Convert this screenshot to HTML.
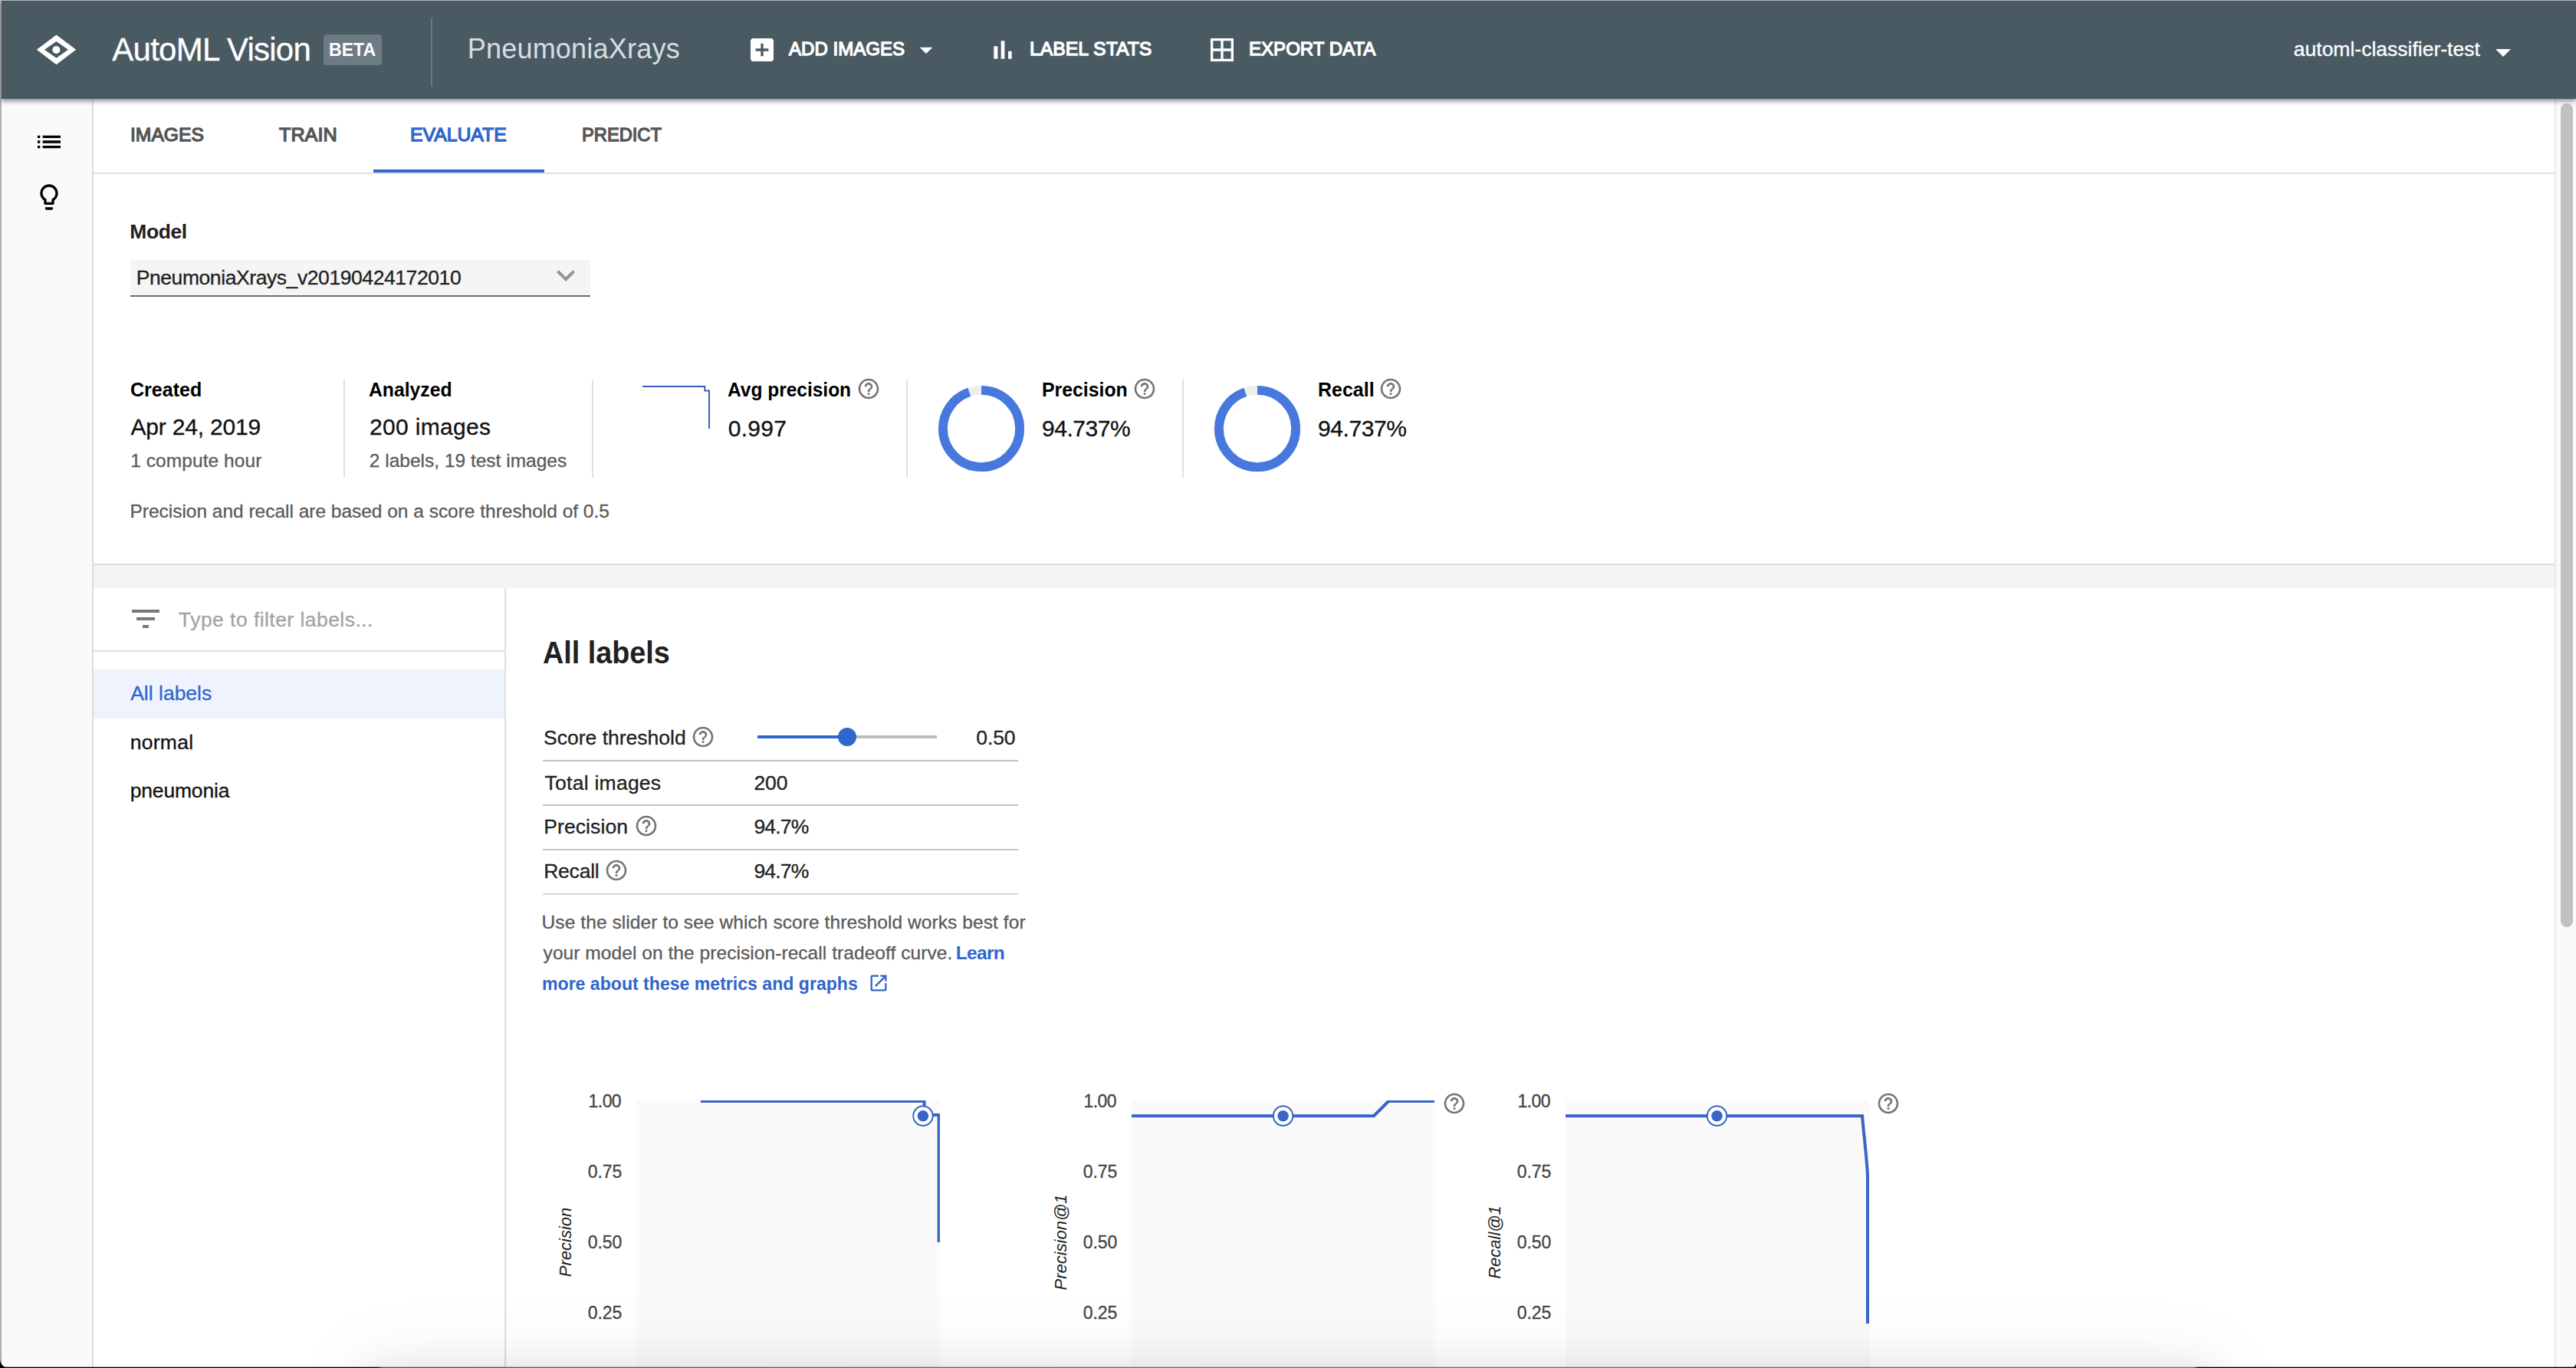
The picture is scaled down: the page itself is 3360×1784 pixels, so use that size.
<!DOCTYPE html>
<html lang="en"><head><meta charset="utf-8"><title>AutoML Vision - PneumoniaXrays - Evaluate</title>
<style>
html,body{margin:0;padding:0}
body{width:3360px;height:1784px;position:relative;overflow:hidden;background:#fff;font-family:"Liberation Sans",sans-serif;}
.t{position:absolute;white-space:pre;transform-origin:0 0;display:block}
.i{position:absolute;display:block;overflow:visible}
.b{position:absolute;display:block}
</style></head><body>

<div class="b" style="left:0;top:0;width:2px;height:1784px;background:linear-gradient(90deg,#bdbdbd 0,#b4b4b4 60%,#8e8e8e 100%)"></div>
<div class="b" style="left:2px;top:129px;width:118px;height:1655px;background:#fafafa;border-right:2px solid #dcdcdc"></div>
<svg class="i" style="left:44.0px;top:165.0px;width:40px;height:40px" viewBox="0 0 24 24"><path fill="#000" d="M3 13h2v-2H3v2zm0 4h2v-2H3v2zm0-8h2V7H3v2zm4 4h14v-2H7v2zm0 4h14v-2H7v2zM7 7v2h14V7H7z"/></svg>
<svg class="i" style="left:44.0px;top:237.0px;width:40px;height:40px" viewBox="0 0 24 24"><path fill="#000" d="M9 21c0 .55.45 1 1 1h4c.55 0 1-.45 1-1v-1H9v1zm3-19C8.14 2 5 5.14 5 9c0 2.38 1.19 4.47 3 5.74V17c0 .55.45 1 1 1h6c.55 0 1-.45 1-1v-2.26c1.81-1.27 3-3.36 3-5.74 0-3.86-3.14-7-7-7zm2.85 11.1l-.85.6V16h-4v-2.3l-.85-.6C7.8 12.16 7 10.63 7 9c0-2.76 2.24-5 5-5s5 2.24 5 5c0 1.63-.8 3.16-2.15 4.1z"/></svg>
<div class="b" style="left:122px;top:225px;width:3210px;height:2px;background:#e0e0e0"></div>
<div class="b" style="left:487px;top:221px;width:223px;height:4px;background:#3268cd"></div>
<span class="t" style="left:169.5px;top:164px;font-size:24.5px;line-height:24.5px;color:#555555;font-weight:normal;-webkit-text-stroke:1.3px currentColor;transform:scaleX(1.0064);">IMAGES</span>
<span class="t" style="left:363.6px;top:164px;font-size:24.5px;line-height:24.5px;color:#555555;font-weight:normal;-webkit-text-stroke:1.3px currentColor;transform:scaleX(1.0292);">TRAIN</span>
<span class="t" style="left:535.2px;top:164px;font-size:24.5px;line-height:24.5px;color:#2f66cc;font-weight:normal;-webkit-text-stroke:1.3px currentColor;transform:scaleX(1.0106);">EVALUATE</span>
<span class="t" style="left:758.7px;top:164px;font-size:24.5px;line-height:24.5px;color:#555555;font-weight:normal;-webkit-text-stroke:1.3px currentColor;transform:scaleX(0.9664);">PREDICT</span>
<span class="t" style="left:169.3px;top:289px;font-size:26.5px;line-height:26.5px;color:#212121;font-weight:bold;letter-spacing:-0.45px;">Model</span>
<div class="b" style="left:170px;top:339px;width:600px;height:45px;background:#f5f5f5"></div><div class="b" style="left:170px;top:385px;width:600px;height:2px;background:#6c6c6c"></div>
<span class="t" style="left:177.7px;top:349px;font-size:26.5px;line-height:26.5px;color:#212121;-webkit-text-stroke:0.3px currentColor;letter-spacing:-0.42px;">PneumoniaXrays_v20190424172010</span>
<svg class="i" style="left:713.9px;top:334.7px;width:48px;height:48px" viewBox="0 0 24 24"><path fill="#949494" d="M16.59 8.59L12 13.17 7.41 8.59 6 10l6 6 6-6z"/></svg>
<div class="b" style="left:448px;top:495px;width:2px;height:128px;background:#e0e0e0"></div>
<div class="b" style="left:772px;top:495px;width:2px;height:128px;background:#e0e0e0"></div>
<div class="b" style="left:1182px;top:495px;width:2px;height:128px;background:#e0e0e0"></div>
<div class="b" style="left:1542px;top:495px;width:2px;height:128px;background:#e0e0e0"></div>
<span class="t" style="left:169.8px;top:495px;font-size:26.5px;line-height:26.5px;color:#000;font-weight:bold;transform:scaleX(0.9458);">Created</span>
<span class="t" style="left:170.5px;top:542px;font-size:30px;line-height:30px;color:#111;-webkit-text-stroke:0.3px currentColor;letter-spacing:-0.20px;">Apr 24, 2019</span>
<span class="t" style="left:170.2px;top:589px;font-size:24.5px;line-height:24.5px;color:#5a5a5a;-webkit-text-stroke:0.3px currentColor;letter-spacing:0.07px;">1 compute hour</span>
<span class="t" style="left:481.3px;top:495px;font-size:26.5px;line-height:26.5px;color:#000;font-weight:bold;transform:scaleX(0.9333);">Analyzed</span>
<span class="t" style="left:482.0px;top:542px;font-size:30px;line-height:30px;color:#111;-webkit-text-stroke:0.3px currentColor;letter-spacing:0.32px;">200 images</span>
<span class="t" style="left:481.8px;top:589px;font-size:24.5px;line-height:24.5px;color:#5a5a5a;-webkit-text-stroke:0.3px currentColor;">2 labels, 19 test images</span>
<span class="t" style="left:948.9px;top:495px;font-size:26.5px;line-height:26.5px;color:#000;font-weight:bold;transform:scaleX(0.9244);">Avg precision</span>
<span class="t" style="left:949.7px;top:544px;font-size:30px;line-height:30px;color:#111;-webkit-text-stroke:0.3px currentColor;letter-spacing:0.30px;">0.997</span>
<span class="t" style="left:1359.3px;top:495px;font-size:26.5px;line-height:26.5px;color:#000;font-weight:bold;transform:scaleX(0.9362);">Precision</span>
<span class="t" style="left:1359.0px;top:544px;font-size:30px;line-height:30px;color:#111;-webkit-text-stroke:0.3px currentColor;letter-spacing:-0.47px;">94.737%</span>
<span class="t" style="left:1718.7px;top:495px;font-size:26.5px;line-height:26.5px;color:#000;font-weight:bold;transform:scaleX(0.9432);">Recall</span>
<span class="t" style="left:1719.0px;top:544px;font-size:30px;line-height:30px;color:#111;-webkit-text-stroke:0.3px currentColor;letter-spacing:-0.42px;">94.737%</span>
<span class="t" style="left:169.5px;top:655px;font-size:24.5px;line-height:24.5px;color:#5a5a5a;-webkit-text-stroke:0.3px currentColor;letter-spacing:-0.02px;">Precision and recall are based on a score threshold of 0.5</span>
<svg class="i" style="left:830px;top:495px;width:110px;height:80px" viewBox="830 495 110 80"><path d="M838 504H919.3V509.6H925V559" fill="none" stroke="#3560c2" stroke-width="2"/></svg>
<svg class="i" style="left:1117.0px;top:491.0px;width:32px;height:32px" viewBox="0 0 24 24"><path fill="#757575" d="M11 18h2v-2h-2v2zm1-16C6.48 2 2 6.48 2 12s4.48 10 10 10 10-4.48 10-10S17.52 2 12 2zm0 18c-4.41 0-8-3.59-8-8s3.59-8 8-8 8 3.59 8 8-3.59 8-8 8zm0-14c-2.21 0-4 1.79-4 4h2c0-1.1.9-2 2-2s2 .9 2 2c0 2-3 1.75-3 5h2c0-2.25 3-2.5 3-5 0-2.21-1.79-4-4-4z"/></svg>
<svg class="i" style="left:1477.3px;top:491.0px;width:32px;height:32px" viewBox="0 0 24 24"><path fill="#757575" d="M11 18h2v-2h-2v2zm1-16C6.48 2 2 6.48 2 12s4.48 10 10 10 10-4.48 10-10S17.52 2 12 2zm0 18c-4.41 0-8-3.59-8-8s3.59-8 8-8 8 3.59 8 8-3.59 8-8 8zm0-14c-2.21 0-4 1.79-4 4h2c0-1.1.9-2 2-2s2 .9 2 2c0 2-3 1.75-3 5h2c0-2.25 3-2.5 3-5 0-2.21-1.79-4-4-4z"/></svg>
<svg class="i" style="left:1798.4px;top:491.0px;width:32px;height:32px" viewBox="0 0 24 24"><path fill="#757575" d="M11 18h2v-2h-2v2zm1-16C6.48 2 2 6.48 2 12s4.48 10 10 10 10-4.48 10-10S17.52 2 12 2zm0 18c-4.41 0-8-3.59-8-8s3.59-8 8-8 8 3.59 8 8-3.59 8-8 8zm0-14c-2.21 0-4 1.79-4 4h2c0-1.1.9-2 2-2s2 .9 2 2c0 2-3 1.75-3 5h2c0-2.25 3-2.5 3-5 0-2.21-1.79-4-4-4z"/></svg>
<svg class="i" style="left:1220.05px;top:498.85px;width:120px;height:120px" viewBox="-60 -60 120 120"><circle r="50.1" fill="none" stroke="#eeeeee" stroke-width="11.9"/><circle r="50.1" fill="none" stroke="#4878dd" stroke-width="11.9" stroke-dasharray="298.22 314.79" transform="rotate(-90)"/></svg>
<svg class="i" style="left:1580.0px;top:498.85px;width:120px;height:120px" viewBox="-60 -60 120 120"><circle r="50.1" fill="none" stroke="#eeeeee" stroke-width="11.9"/><circle r="50.1" fill="none" stroke="#4878dd" stroke-width="11.9" stroke-dasharray="298.22 314.79" transform="rotate(-90)"/></svg>
<div class="b" style="left:122px;top:735px;width:3210px;height:30px;background:#f4f4f4;border-top:2px solid #dedede"></div>
<div class="b" style="left:658px;top:767px;width:2px;height:1017px;background:#dedede"></div>
<svg class="i" style="left:166.0px;top:783.0px;width:48px;height:48px" viewBox="0 0 24 24"><path fill="#7a7a7a" d="M10 18h4v-2h-4v2zM3 6v2h18V6H3zm3 7h12v-2H6v2z"/></svg>
<span class="t" style="left:233.0px;top:795px;font-size:26.5px;line-height:26.5px;color:#a3a3a3;-webkit-text-stroke:0.3px currentColor;letter-spacing:0.45px;">Type to filter labels...</span>
<div class="b" style="left:122px;top:848px;width:536px;height:2px;background:#e0e0e0"></div>
<div class="b" style="left:122px;top:873px;width:536px;height:64px;background:#eff3fd"></div>
<span class="t" style="left:170.2px;top:891px;font-size:26.5px;line-height:26.5px;color:#2f66cc;-webkit-text-stroke:0.3px currentColor;">All labels</span>
<span class="t" style="left:169.7px;top:955px;font-size:26.5px;line-height:26.5px;color:#111;-webkit-text-stroke:0.3px currentColor;letter-spacing:0.28px;">normal</span>
<span class="t" style="left:169.7px;top:1018px;font-size:26.5px;line-height:26.5px;color:#111;-webkit-text-stroke:0.3px currentColor;letter-spacing:-0.17px;">pneumonia</span>
<span class="t" style="left:707.6px;top:831px;font-size:41px;line-height:41px;color:#212121;font-weight:bold;transform:scaleX(0.9208);">All labels</span>
<span class="t" style="left:709.1px;top:949px;font-size:26.5px;line-height:26.5px;color:#212121;-webkit-text-stroke:0.3px currentColor;">Score threshold</span>
<span class="t" style="left:1273.3px;top:949px;font-size:26.5px;line-height:26.5px;color:#212121;-webkit-text-stroke:0.3px currentColor;letter-spacing:-0.10px;">0.50</span>
<span class="t" style="left:710.6px;top:1008px;font-size:26.5px;line-height:26.5px;color:#212121;-webkit-text-stroke:0.3px currentColor;letter-spacing:0.25px;">Total images</span>
<span class="t" style="left:983.4px;top:1008px;font-size:26.5px;line-height:26.5px;color:#212121;-webkit-text-stroke:0.3px currentColor;letter-spacing:-0.05px;">200</span>
<span class="t" style="left:709.2px;top:1065px;font-size:26.5px;line-height:26.5px;color:#212121;-webkit-text-stroke:0.3px currentColor;letter-spacing:0.11px;">Precision</span>
<span class="t" style="left:983.4px;top:1065px;font-size:26.5px;line-height:26.5px;color:#212121;-webkit-text-stroke:0.3px currentColor;letter-spacing:-0.80px;">94.7%</span>
<span class="t" style="left:709.2px;top:1123px;font-size:26.5px;line-height:26.5px;color:#212121;-webkit-text-stroke:0.3px currentColor;letter-spacing:-0.22px;">Recall</span>
<span class="t" style="left:983.4px;top:1123px;font-size:26.5px;line-height:26.5px;color:#212121;-webkit-text-stroke:0.3px currentColor;letter-spacing:-0.80px;">94.7%</span>
<span class="t" style="left:706.6px;top:1191px;font-size:24.5px;line-height:24.5px;color:#5a5a5a;-webkit-text-stroke:0.3px currentColor;letter-spacing:0.08px;">Use the slider to see which score threshold works best for</span>
<span class="t" style="left:708.6px;top:1231px;font-size:24.5px;line-height:24.5px;color:#5a5a5a;-webkit-text-stroke:0.3px currentColor;letter-spacing:0.06px;">your model on the precision-recall tradeoff curve.</span>
<span class="t" style="left:1246.8px;top:1231px;font-size:24.5px;line-height:24.5px;color:#2f66cc;font-weight:bold;letter-spacing:-0.68px;">Learn</span>
<span class="t" style="left:706.7px;top:1271px;font-size:24.5px;line-height:24.5px;color:#2f66cc;font-weight:bold;transform:scaleX(0.9422);">more about these metrics and graphs</span>
<svg class="i" style="left:901.4px;top:945.0px;width:32px;height:32px" viewBox="0 0 24 24"><path fill="#757575" d="M11 18h2v-2h-2v2zm1-16C6.48 2 2 6.48 2 12s4.48 10 10 10 10-4.48 10-10S17.52 2 12 2zm0 18c-4.41 0-8-3.59-8-8s3.59-8 8-8 8 3.59 8 8-3.59 8-8 8zm0-14c-2.21 0-4 1.79-4 4h2c0-1.1.9-2 2-2s2 .9 2 2c0 2-3 1.75-3 5h2c0-2.25 3-2.5 3-5 0-2.21-1.79-4-4-4z"/></svg>
<svg class="i" style="left:826.6px;top:1061.0px;width:32px;height:32px" viewBox="0 0 24 24"><path fill="#757575" d="M11 18h2v-2h-2v2zm1-16C6.48 2 2 6.48 2 12s4.48 10 10 10 10-4.48 10-10S17.52 2 12 2zm0 18c-4.41 0-8-3.59-8-8s3.59-8 8-8 8 3.59 8 8-3.59 8-8 8zm0-14c-2.21 0-4 1.79-4 4h2c0-1.1.9-2 2-2s2 .9 2 2c0 2-3 1.75-3 5h2c0-2.25 3-2.5 3-5 0-2.21-1.79-4-4-4z"/></svg>
<svg class="i" style="left:787.9px;top:1119.0px;width:32px;height:32px" viewBox="0 0 24 24"><path fill="#757575" d="M11 18h2v-2h-2v2zm1-16C6.48 2 2 6.48 2 12s4.48 10 10 10 10-4.48 10-10S17.52 2 12 2zm0 18c-4.41 0-8-3.59-8-8s3.59-8 8-8 8 3.59 8 8-3.59 8-8 8zm0-14c-2.21 0-4 1.79-4 4h2c0-1.1.9-2 2-2s2 .9 2 2c0 2-3 1.75-3 5h2c0-2.25 3-2.5 3-5 0-2.21-1.79-4-4-4z"/></svg>
<div class="b" style="left:988px;top:959px;width:234px;height:4px;background:#bdbdbd"></div>
<div class="b" style="left:988px;top:959px;width:117px;height:4px;background:#3066cc"></div>
<div class="b" style="left:1093px;top:949px;width:24px;height:24px;border-radius:50%;background:#3066cc"></div>
<div class="b" style="left:708px;top:991px;width:620px;height:2px;background:#c4c4c4"></div>
<div class="b" style="left:708px;top:1049px;width:620px;height:2px;background:#c4c4c4"></div>
<div class="b" style="left:708px;top:1107px;width:620px;height:2px;background:#c4c4c4"></div>
<div class="b" style="left:708px;top:1165px;width:620px;height:2px;background:#d6d6d6"></div>
<svg class="i" style="left:1132.4px;top:1268.4px;width:28px;height:28px" viewBox="0 0 24 24"><path fill="#2f66cc" d="M19 19H5V5h7V3H5c-1.11 0-2 .9-2 2v14c0 1.1.89 2 2 2h14c1.1 0 2-.9 2-2v-7h-2v7zM14 3v2h3.59l-9.83 9.83 1.41 1.41L19 6.41V10h2V3h-7z"/></svg>
<div class="b" style="left:830px;top:1435px;width:396px;height:349px;background:#fafafa"></div>
<span class="t" style="left:727px;top:1620px;font-size:22px;line-height:22px;font-style:italic;color:#222;transform:translate(-50%,-50%) rotate(-90deg);transform-origin:50% 50%;left:738px">Precision</span>
<div class="b" style="left:1476px;top:1435px;width:396px;height:349px;background:#fafafa"></div>
<span class="t" style="left:1373px;top:1620px;font-size:22px;line-height:22px;font-style:italic;color:#222;transform:translate(-50%,-50%) rotate(-90deg);transform-origin:50% 50%;left:1384px">Precision@1</span>
<div class="b" style="left:2042px;top:1435px;width:396px;height:349px;background:#fafafa"></div>
<span class="t" style="left:1939px;top:1620px;font-size:22px;line-height:22px;font-style:italic;color:#222;transform:translate(-50%,-50%) rotate(-90deg);transform-origin:50% 50%;left:1950px">Recall@1</span>
<span class="t" style="left:767.6px;top:1425px;font-size:23px;line-height:23px;color:#444444;-webkit-text-stroke:0.3px currentColor;letter-spacing:-0.57px;">1.00</span>
<span class="t" style="left:766.7px;top:1517px;font-size:23px;line-height:23px;color:#444444;-webkit-text-stroke:0.3px currentColor;letter-spacing:-0.07px;">0.75</span>
<span class="t" style="left:766.7px;top:1609px;font-size:23px;line-height:23px;color:#444444;-webkit-text-stroke:0.3px currentColor;letter-spacing:-0.07px;">0.50</span>
<span class="t" style="left:766.7px;top:1701px;font-size:23px;line-height:23px;color:#444444;-webkit-text-stroke:0.3px currentColor;letter-spacing:-0.07px;">0.25</span>
<span class="t" style="left:1413.5px;top:1425px;font-size:23px;line-height:23px;color:#444444;-webkit-text-stroke:0.3px currentColor;letter-spacing:-0.57px;">1.00</span>
<span class="t" style="left:1412.7px;top:1517px;font-size:23px;line-height:23px;color:#444444;-webkit-text-stroke:0.3px currentColor;letter-spacing:-0.07px;">0.75</span>
<span class="t" style="left:1412.7px;top:1609px;font-size:23px;line-height:23px;color:#444444;-webkit-text-stroke:0.3px currentColor;letter-spacing:-0.07px;">0.50</span>
<span class="t" style="left:1412.7px;top:1701px;font-size:23px;line-height:23px;color:#444444;-webkit-text-stroke:0.3px currentColor;letter-spacing:-0.07px;">0.25</span>
<span class="t" style="left:1979.5px;top:1425px;font-size:23px;line-height:23px;color:#444444;-webkit-text-stroke:0.3px currentColor;letter-spacing:-0.57px;">1.00</span>
<span class="t" style="left:1978.7px;top:1517px;font-size:23px;line-height:23px;color:#444444;-webkit-text-stroke:0.3px currentColor;letter-spacing:-0.07px;">0.75</span>
<span class="t" style="left:1978.7px;top:1609px;font-size:23px;line-height:23px;color:#444444;-webkit-text-stroke:0.3px currentColor;letter-spacing:-0.07px;">0.50</span>
<span class="t" style="left:1978.7px;top:1701px;font-size:23px;line-height:23px;color:#444444;-webkit-text-stroke:0.3px currentColor;letter-spacing:-0.07px;">0.25</span>
<svg class="i" style="left:0;top:1400px;width:3360px;height:384px" viewBox="0 1400 3360 384"><defs><clipPath id="cp1"><rect x="830" y="1435" width="396" height="360"/></clipPath><clipPath id="cp2"><rect x="1476" y="1435" width="396" height="360"/></clipPath><clipPath id="cp3"><rect x="2042" y="1435" width="396" height="360"/></clipPath></defs><g fill="none" stroke="#3a64c6" stroke-width="4" stroke-linejoin="miter"><path clip-path="url(#cp1)" d="M914 1436H1205.5V1454H1224.6V1620"/><path clip-path="url(#cp2)" d="M1470 1455.2H1792L1811.2 1436H1871"/><path clip-path="url(#cp3)" d="M2036 1455.2H2429C2431 1480 2434 1500 2436 1532V1726"/></g><circle cx="1203.9" cy="1455.3" r="12.7" fill="#fff" stroke="#3a64c6" stroke-width="2"/><circle cx="1203.9" cy="1455.3" r="7.2" fill="#3a64c6"/><circle cx="1673.6" cy="1455.3" r="12.7" fill="#fff" stroke="#3a64c6" stroke-width="2"/><circle cx="1673.6" cy="1455.3" r="7.2" fill="#3a64c6"/><circle cx="2239.5" cy="1455.3" r="12.7" fill="#fff" stroke="#3a64c6" stroke-width="2"/><circle cx="2239.5" cy="1455.3" r="7.2" fill="#3a64c6"/></svg>
<svg class="i" style="left:1881.0px;top:1422.9px;width:32px;height:32px" viewBox="0 0 24 24"><path fill="#757575" d="M11 18h2v-2h-2v2zm1-16C6.48 2 2 6.48 2 12s4.48 10 10 10 10-4.48 10-10S17.52 2 12 2zm0 18c-4.41 0-8-3.59-8-8s3.59-8 8-8 8 3.59 8 8-3.59 8-8 8zm0-14c-2.21 0-4 1.79-4 4h2c0-1.1.9-2 2-2s2 .9 2 2c0 2-3 1.75-3 5h2c0-2.25 3-2.5 3-5 0-2.21-1.79-4-4-4z"/></svg>
<svg class="i" style="left:2446.9px;top:1422.9px;width:32px;height:32px" viewBox="0 0 24 24"><path fill="#757575" d="M11 18h2v-2h-2v2zm1-16C6.48 2 2 6.48 2 12s4.48 10 10 10 10-4.48 10-10S17.52 2 12 2zm0 18c-4.41 0-8-3.59-8-8s3.59-8 8-8 8 3.59 8 8-3.59 8-8 8zm0-14c-2.21 0-4 1.79-4 4h2c0-1.1.9-2 2-2s2 .9 2 2c0 2-3 1.75-3 5h2c0-2.25 3-2.5 3-5 0-2.21-1.79-4-4-4z"/></svg>
<div class="b" style="left:3332px;top:129px;width:26px;height:1655px;background:#fafafa;border-left:2px solid #e8e8e8"></div>
<div class="b" style="left:3340px;top:135px;width:16px;height:1074px;border-radius:8px;background:#c1c1c1"></div>
<div class="b" style="left:470px;top:1790px;width:2420px;height:60px;box-shadow:0 0 50px rgba(0,0,0,.1),0 0 110px rgba(0,0,0,.1)"></div>
<div class="b" style="left:2px;top:1px;width:3358px;height:128px;background:#495a63;box-shadow:0 3px 6px rgba(0,0,0,.42)"></div>
<div class="b" style="left:0;top:0;width:3360px;height:1px;background:#b3b1b2"></div>
<svg class="i" style="left:40px;top:40px;width:66px;height:50px" viewBox="40 40 66 50"><path fill="#fff" fill-rule="evenodd" d="M47.8 64.85L73.5 45.5L99.2 64.85L73.5 84.2ZM58 64.85L73.5 75.8L88.9 64.85L73.5 54Z"/><circle cx="73.45" cy="65" r="5.05" fill="#fff"/></svg>
<span class="t" style="left:146.3px;top:44px;font-size:42px;line-height:42px;color:#ffffff;-webkit-text-stroke:0.3px currentColor;letter-spacing:-0.75px;">AutoML Vision</span>
<div class="b" style="left:422px;top:45px;width:76px;height:40px;border-radius:4px;background:#6c7b84"></div>
<span class="t" style="left:428.6px;top:53px;font-size:24.5px;line-height:24.5px;color:#ffffff;font-weight:bold;transform:scaleX(0.9435);">BETA</span>
<div class="b" style="left:562px;top:24px;width:2px;height:89px;background:#6b7981"></div>
<span class="t" style="left:609.7px;top:46px;font-size:36px;line-height:36px;color:#d9dde0;font-weight:normal;letter-spacing:0.22px;">PneumoniaXrays</span>
<svg class="i" style="left:974.0px;top:45.0px;width:40px;height:40px" viewBox="0 0 24 24"><path fill="#fff" d="M19 3H5c-1.11 0-2 .9-2 2v14c0 1.1.89 2 2 2h14c1.1 0 2-.9 2-2V5c0-1.1-.9-2-2-2zm-2 10h-4v4h-2v-4H7v-2h4V7h2v4h4v2z"/></svg>
<span class="t" style="left:1029.1px;top:52px;font-size:24.5px;line-height:24.5px;color:#ffffff;font-weight:normal;-webkit-text-stroke:1.3px currentColor;transform:scaleX(0.9826);">ADD IMAGES</span>
<svg class="i" style="left:1188.0px;top:45.0px;width:40px;height:40px" viewBox="0 0 24 24"><path fill="#fff" d="M7 10l5 5 5-5z"/></svg>
<svg class="i" style="left:1287.5px;top:45.0px;width:40px;height:40px" viewBox="0 0 24 24"><path fill="#fff" d="M5 9.2h3V19H5zM10.6 5h2.8v14h-2.8zm5.6 8H19v6h-2.8z"/></svg>
<span class="t" style="left:1343.1px;top:52px;font-size:24.5px;line-height:24.5px;color:#ffffff;font-weight:normal;-webkit-text-stroke:1.3px currentColor;transform:scaleX(1.0115);">LABEL STATS</span>
<svg class="i" style="left:1574.0px;top:45.0px;width:40px;height:40px" viewBox="0 0 24 24"><path fill="#fff" d="M3 3v18h18V3H3zm8 16H5v-6h6v6zm0-8H5V5h6v6zm8 8h-6v-6h6v6zm0-8h-6V5h6v6z"/></svg>
<span class="t" style="left:1628.9px;top:52px;font-size:24.5px;line-height:24.5px;color:#ffffff;font-weight:normal;-webkit-text-stroke:1.3px currentColor;transform:scaleX(0.9821);">EXPORT DATA</span>
<span class="t" style="left:2991.8px;top:51px;font-size:26.5px;line-height:26.5px;color:#ffffff;-webkit-text-stroke:0.3px currentColor;">automl-classifier-test</span>
<svg class="i" style="left:3241.2px;top:43.7px;width:48px;height:48px" viewBox="0 0 24 24"><path fill="#fff" d="M7 10l5 5 5-5z"/></svg>
<div class="b" style="left:0;top:1783px;width:3360px;height:1px;background:linear-gradient(90deg,#000 0,#000 492px,#5a5250 500px,#8a6a5c 1600px,#9a6450 2860px,#000 2868px,#000 100%)"></div>
<div class="b" style="left:0;top:1782px;width:3360px;height:1px;opacity:.3;background:linear-gradient(90deg,#000 0,#000 492px,#5a5250 500px,#8a6a5c 1600px,#9a6450 2860px,#000 2868px,#000 100%)"></div>
<svg class="i" style="left:0;top:1772px;width:12px;height:12px" viewBox="0 0 12 12"><path d="M0 0V12H12C5 12 0 7 0 0Z" fill="#000"/></svg>
<svg class="i" style="left:3353px;top:1777px;width:7px;height:7px" viewBox="0 0 12 12"><path d="M12 0V12H0C7 12 12 7 12 0Z" fill="#0c1018"/></svg>
<script>(function(){var w=window.innerWidth;if(w&&Math.abs(w-3360)>2){document.body.style.zoom=w/3360;}})();</script>
</body></html>
